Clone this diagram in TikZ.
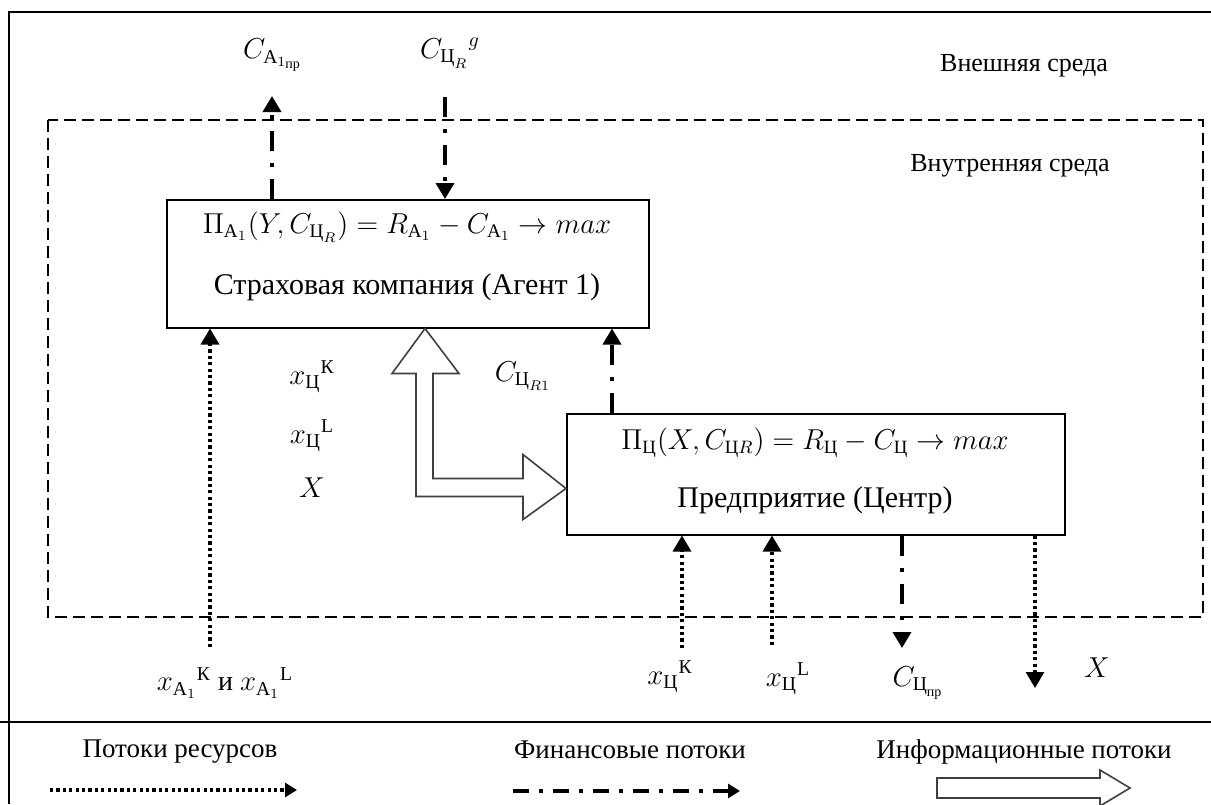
\documentclass[tikz,border=0pt]{standalone}
\usepackage{amsmath}
\usepackage{fontspec}
\setmainfont{Liberation Serif}
\usetikzlibrary{arrows.meta}

\begin{document}
\begin{tikzpicture}[x=0.5pt,y=-0.5pt,
    every node/.style={font=\fontsize{13}{15}\selectfont},
    mathlabel/.style={font=\fontsize{14}{16}\selectfont},
    boxtext/.style={font=\fontsize{15}{17}\selectfont},
    legend/.style={font=\fontsize{13.5}{16}\selectfont},
    box/.style={draw,line width=0.75pt,anchor=north west,inner sep=0pt},
    resflow/.style={line width=1.6pt,dash pattern=on 1.6pt off 1.6pt,-{Triangle[length=8pt,width=9pt]}},
    finflow/.style={line width=1.8pt,dash pattern=on 10pt off 6pt on 2pt off 6pt,-{Triangle[length=8pt,width=9pt]}},
    infoflow/.style={draw=black!75,line width=0.8pt,fill=white}]
    \useasboundingbox (0,0) rectangle (1211,804);
    % frame and environments
    \draw[line width=0.9pt] (9,804) -- (9,12) -- (1211,12);
    \draw[line width=0.9pt] (0,722) -- (1211,722);
    \draw[line width=0.6pt,dash pattern=on 6pt off 3pt] (48,120) rectangle (1203,617);
    \node (ext) at (1024,66) {Внешняя среда};
    \node (int) at (1010,166) {Внутренняя среда};

    % agent and center
    \node[box,minimum width=241pt,minimum height=64pt] (agent) at (166,199) {};
    \node[font=\fontsize{13.7}{16}\selectfont] (agentf) at (407,227) {$\Pi_{\text{А}_1}(Y, C_{\text{Ц}_R}) = R_{\text{А}_1} - C_{\text{А}_1} \rightarrow max$};
    \node[boxtext] (agentt) at (407,287) {Страховая компания (Агент 1)};
    \node[box,minimum width=249pt,minimum height=60.5pt] (center) at (566,413) {};
    \node[font=\fontsize{13.4}{16}\selectfont] (centerf) at (815,443) {$\Pi_{\text{Ц}}(X, C_{\text{Ц}R}) = R_{\text{Ц}} - C_{\text{Ц}} \rightarrow max$};
    \node[boxtext] (centert) at (815,500) {Предприятие (Центр)};

    % flows of the agent
    \coordinate (cApr) at (272,96);
    \draw[finflow] (agent.north -| cApr) -- (cApr);
    \node[mathlabel] (lApr) at (273,55) {$C_{\text{А}_{1_{\text{пр}}}}$};
    \coordinate (cRg) at (445,97);
    \draw[finflow] (cRg) -- (agent.north -| cRg);
    \node[mathlabel] (lRg) at (450,53) {${C_{\text{Ц}_R}}^{g}$};
    \coordinate (xA) at (210,647);
    \draw[resflow] (xA) -- (agent.south -| xA);
    \node[mathlabel] (lxA) at (225,683) {${x_{\text{А}_1}}^{\text{К}}$ и ${x_{\text{А}_1}}^{\text{L}}$};

    % between agent and center
    \node[mathlabel] (lxK) at (312,377) {${x_{\text{Ц}}}^{\text{К}}$};
    \node[mathlabel] (lxL) at (312,436) {${x_{\text{Ц}}}^{\text{L}}$};
    \node[mathlabel] (lX) at (312,488) {$X$};
    \node[mathlabel] (lR1) at (523,376) {$C_{\text{Ц}_{R1}}$};
    \coordinate (cR1) at (612,0);
    \draw[finflow] (center.north -| cR1) -- (agent.south -| cR1);
    \coordinate (infx) at (425,0);
    \draw[infoflow] (agent.south -| infx) -- ++(34,45) -- ++(-26,0) -- ++(0,105) -- ++(90,0)
        -- ++(0,-24) -- ++(43,34) -- ++(-43,31) -- ++(0,-23) -- ++(-107,0) -- ++(0,-123)
        -- ++(-24,0) -- cycle;

    % flows of the center
    \coordinate (xCK) at (682,648);
    \draw[resflow] (xCK) -- (center.south -| xCK);
    \node[mathlabel] (lCK) at (670,677) {${x_{\text{Ц}}}^{\text{К}}$};
    \coordinate (xCL) at (772,645);
    \draw[resflow] (xCL) -- (center.south -| xCL);
    \node[mathlabel] (lCL) at (788,679) {${x_{\text{Ц}}}^{\text{L}}$};
    \coordinate (cCpr) at (902,648);
    \draw[finflow] (center.south -| cCpr) -- (cCpr);
    \node[mathlabel] (lCpr) at (918,683) {$C_{\text{Ц}_{\text{пр}}}$};
    \coordinate (xX) at (1035,688);
    \draw[resflow] (center.south -| xX) -- (xX);
    \node[mathlabel] (lXX) at (1097,668) {$X$};

    % legend
    \node[legend] (lgres) at (180,752) {Потоки ресурсов};
    \coordinate (lgresa) at (50,790);
    \coordinate (lgresb) at (297,790);
    \draw[resflow,-{Triangle[length=6pt,width=7pt]}] (lgresa) -- (lgresb);
    \node[legend] (lgfin) at (630,750) {Финансовые потоки};
    \coordinate (lgfina) at (513,791);
    \coordinate (lgfinb) at (740,791);
    \draw[finflow,dash pattern=on 8pt off 5pt on 2pt off 5pt,-{Triangle[length=6pt,width=7pt]}] (lgfina) -- (lgfinb);
    \node[legend] (lginf) at (1024,752) {Информационные потоки};
    \coordinate (lginfa) at (937,778);
    \draw[infoflow] (lginfa) -- ++(163,0) -- ++(0,-8) -- ++(30,18) -- ++(-30,18) -- ++(0,-8)
        -- ++(-163,0) -- cycle;
\end{tikzpicture}
\end{document}
